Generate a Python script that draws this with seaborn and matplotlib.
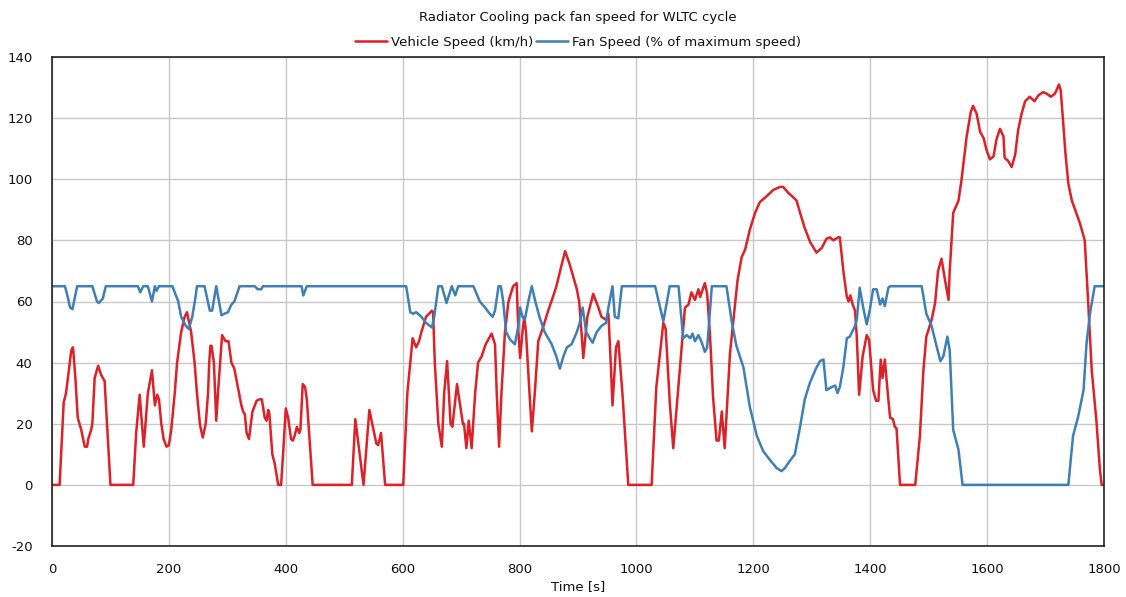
import matplotlib
matplotlib.use("Agg")
import matplotlib.pyplot as plt
import seaborn as sns
import pandas as pd

# ---- data ----
speed_time = [0, 13, 20, 24, 33, 36, 40, 44, 50, 56, 60, 62, 67, 69, 73, 79, 84, 90, 100, 139,
              144, 150, 157, 164, 171, 176, 180, 183, 187, 191, 196, 200, 204, 210, 214, 221, 227, 231, 238, 244,
              248, 253, 255, 258, 263, 267, 269, 271, 273, 277, 281, 284, 291, 297, 302, 307, 312, 318, 324, 327,
              330, 333, 337, 343, 350, 355, 359, 364, 367, 370, 372, 377, 381, 387, 392, 396, 400, 404, 409, 412,
              415, 419, 423, 425, 429, 433, 436, 446, 513, 519, 533, 543, 555, 558, 563, 570, 601, 608, 617, 623,
              628, 632, 640, 650, 652, 655, 661, 667, 671, 676, 682, 685, 693, 703, 705, 709, 713, 718, 724, 729,
              735, 742, 752, 758, 761, 765, 769, 775, 781, 789, 795, 798, 801, 805, 808, 811, 817, 821, 826, 832,
              841, 849, 858, 863, 872, 878, 886, 898, 902, 906, 909, 916, 926, 935, 940, 948, 952, 956, 959, 965,
              969, 976, 986, 1026, 1034, 1046, 1050, 1057, 1063, 1074, 1083, 1089, 1094, 1100, 1106, 1109, 1117, 1121, 1126, 1131,
              1137, 1141, 1146, 1151, 1160, 1166, 1173, 1180, 1186, 1194, 1203, 1211, 1223, 1234, 1246, 1251, 1260, 1266, 1274, 1280,
              1288, 1297, 1308, 1317, 1325, 1331, 1337, 1345, 1348, 1354, 1360, 1363, 1366, 1370, 1374, 1377, 1381, 1387, 1394, 1398,
              1405, 1410, 1414, 1418, 1421, 1425, 1430, 1434, 1439, 1442, 1445, 1451, 1477, 1485, 1491, 1496, 1505, 1511, 1516, 1522,
              1528, 1534, 1536, 1542, 1551, 1556, 1565, 1572, 1576, 1582, 1588, 1594, 1599, 1605, 1611, 1616, 1622, 1628, 1630, 1636,
              1642, 1648, 1653, 1659, 1665, 1673, 1681, 1688, 1696, 1702, 1709, 1716, 1723, 1726, 1730, 1734, 1739, 1745, 1759, 1767,
              1773, 1779, 1787, 1793, 1796, 1800]
speed_kmh = [0, 0, 27, 30, 44, 45, 35, 22, 18, 12.5, 12.5, 15, 18, 20, 35, 39, 36, 34, 0, 0,
             17, 29.5, 12.5, 30, 37.5, 26, 29.5, 28, 20, 15, 12.5, 13, 18, 30, 40, 50, 55, 56.5, 50, 40,
             30, 20, 18, 15.5, 20, 30, 40, 45.5, 45.5, 40, 21, 30, 49, 47, 47, 40, 38, 32, 26, 24,
             23, 17, 15, 24, 27.5, 28, 28, 22, 21, 24.5, 23, 10, 7, 0, 0, 12, 25, 22, 15, 14.5,
             16, 19, 17, 18, 33, 32, 28, 0, 0, 21.5, 0, 24.5, 13.5, 13, 17, 0, 0, 30, 48, 45,
             47, 50, 55, 57, 56.5, 40, 20, 12.5, 30, 40.5, 20, 19, 33, 20, 20, 12, 21, 12, 30, 40,
             42, 46, 49.5, 46, 30, 12.5, 30, 50, 60, 65, 66, 50, 41.5, 50, 55, 50, 30, 17.5, 30, 47,
             52, 57, 62, 65, 72, 76.5, 72, 64, 60, 50, 41.5, 55, 62.5, 58, 55, 54, 56, 40, 26, 45,
             47, 30, 0, 0, 32, 53, 51, 27, 12, 37.5, 58, 59, 63, 60.5, 64, 61.5, 66, 62.5, 48.5, 29,
             14.5, 14.5, 24, 12, 43, 54, 67, 74.5, 77, 83.5, 89, 92.5, 94.5, 96.5, 97.5, 97.5, 95.5, 94.5, 93, 89,
             84, 79.5, 76, 77.5, 80.5, 81, 80, 81, 81, 70, 61.5, 60, 62, 59, 57, 48.5, 29.5, 42, 49, 47.5,
             31, 27.5, 27.5, 41, 35, 41, 30, 22, 21.5, 19, 18.5, 0, 0, 16, 37.5, 48.5, 54, 59.5, 70, 74,
             67, 60.5, 70, 89, 93, 99.5, 114, 122, 124, 121.5, 115.5, 113.5, 109.5, 106.5, 107.5, 113, 116.5, 114, 107, 106,
             104, 108, 116, 121.5, 125.5, 127, 125.5, 127.5, 128.5, 128, 127, 128, 131, 129, 119, 108.5, 98.5, 93, 85.5, 80,
             59.5, 37.5, 21, 5, 0, 0]

fan_time = [0, 22, 25, 31, 35, 43, 69, 77, 80, 87, 92, 147, 151, 156, 164, 171, 176, 179, 183, 206,
            216, 221, 229, 234, 240, 246, 248, 261, 270, 274, 281, 290, 295, 301, 307, 312, 321, 347, 352, 358,
            361, 427, 430, 436, 606, 613, 618, 623, 632, 640, 650, 654, 661, 667, 675, 684, 690, 695, 721, 732,
            741, 749, 754, 758, 764, 768, 772, 777, 784, 792, 798, 801, 805, 809, 815, 821, 827, 834, 843, 855,
            863, 869, 875, 881, 889, 898, 903, 908, 914, 920, 925, 932, 940, 948, 952, 959, 963, 969, 975, 1032,
            1046, 1057, 1072, 1080, 1086, 1092, 1096, 1100, 1106, 1112, 1117, 1121, 1129, 1154, 1163, 1171, 1183, 1194, 1206, 1217,
            1229, 1240, 1248, 1254, 1263, 1271, 1280, 1288, 1297, 1307, 1314, 1320, 1325, 1334, 1340, 1344, 1348, 1354, 1360, 1365,
            1374, 1377, 1382, 1388, 1394, 1399, 1405, 1411, 1417, 1421, 1425, 1431, 1434, 1488, 1496, 1505, 1514, 1520, 1525, 1532,
            1536, 1542, 1551, 1558, 1739, 1747, 1756, 1765, 1770, 1776, 1784, 1800]
fan_pct = [65, 65, 63, 58, 57.5, 65, 65, 60, 59.5, 61, 65, 65, 63, 65, 65, 60, 65, 63.5, 65, 65,
           60, 55, 52, 51, 55, 62, 65, 65, 57, 57, 65, 55.5, 56, 56.5, 59, 60, 65, 65, 64, 64,
           65, 65, 62, 65, 65, 56.5, 56, 56.5, 55, 53, 51.5, 55, 65, 65, 59.5, 65, 62, 65, 65, 60,
           58, 56, 55, 57, 65, 65, 60, 50, 47.5, 46, 52, 58, 55, 54, 60, 65, 60, 55, 50, 46,
           42, 38, 42, 45, 46, 50, 53, 58, 50, 48, 46.5, 50, 52, 53, 58, 65, 55, 54.5, 65, 65,
           53.5, 65, 65, 48, 49, 48, 49.5, 47, 49, 46.5, 43.5, 45, 65, 65, 53.5, 45.5, 38.5, 25.5, 16, 11,
           8, 5.5, 4.5, 5.5, 8, 10, 19, 28, 33.5, 38, 40.5, 41, 31, 32, 32.5, 30, 32, 38.5, 48, 48.5,
           52, 54, 64.5, 58, 52.5, 57, 64, 64, 59, 61, 58.5, 64.5, 65, 65, 56, 52, 45, 40.5, 42, 48.5,
           44, 18, 11.5, 0, 0, 16, 22.5, 31, 46, 56, 65, 65]

x_ticks = [0, 200, 400, 600, 800, 1000, 1200, 1400, 1600, 1800]
y_ticks = [-20, 0, 20, 40, 60, 80, 100, 120, 140]
series_names = ["Vehicle Speed (km/h)", "Fan Speed (% of maximum speed)"]
title_text = "Radiator Cooling pack fan speed for WLTC cycle"
x_label = "Time [s]"

# ---- build table ----
df = pd.concat([
    pd.DataFrame({"Time": speed_time, "Value": speed_kmh, "Series": series_names[0]}),
    pd.DataFrame({"Time": fan_time, "Value": fan_pct, "Series": series_names[1]}),
], ignore_index=True)

sns.set_theme(style="white")
plt.rcParams["font.family"] = ["DejaVu Sans"]
plt.rcParams["axes.unicode_minus"] = False

fig = plt.figure(figsize=(11.26, 5.97), dpi=100)
ax = fig.add_axes([52 / 1126, 1 - 546 / 597, (1104 - 52) / 1126, (546 - 57) / 597])

palette = {series_names[0]: "#dc2128", series_names[1]: "#3f7fb5"}
sns.lineplot(data=df, x="Time", y="Value", hue="Series", palette=palette,
             estimator=None, sort=False, linewidth=1.8, ax=ax)

ax.set_xlim(0, 1800)
ax.set_ylim(-20, 140)
ax.set_xticks(x_ticks)
ax.set_yticks(y_ticks)
ax.grid(True, color="#c8c8c8", linewidth=1.0)
ax.set_axisbelow(True)
for s in ax.spines.values():
    s.set_color("#222222")
    s.set_linewidth(1.2)
    s.set_visible(True)
ax.tick_params(axis="both", direction="in", length=7, width=1.2, color="#222222",
               labelsize=9.5, labelcolor="#111111", pad=12)
ax.tick_params(axis="y", pad=14)
ax.set_xlabel(x_label, fontsize=9.5, color="#111111", labelpad=3)
ax.set_ylabel("")

leg = ax.legend(loc="lower center", bbox_to_anchor=(0.5, 1.0), ncol=2, frameon=False,
                fontsize=9.5, handlelength=2.4, handletextpad=0.3, columnspacing=0.2,
                borderaxespad=0.2)
for t in leg.get_texts():
    t.set_color("#111111")
fig.text(0.5 * (52 + 1104) / 1126, 1 - 17 / 597, title_text, ha="center", va="center",
         fontsize=9.5, color="#111111")

fig.savefig("out.png", dpi=100)
